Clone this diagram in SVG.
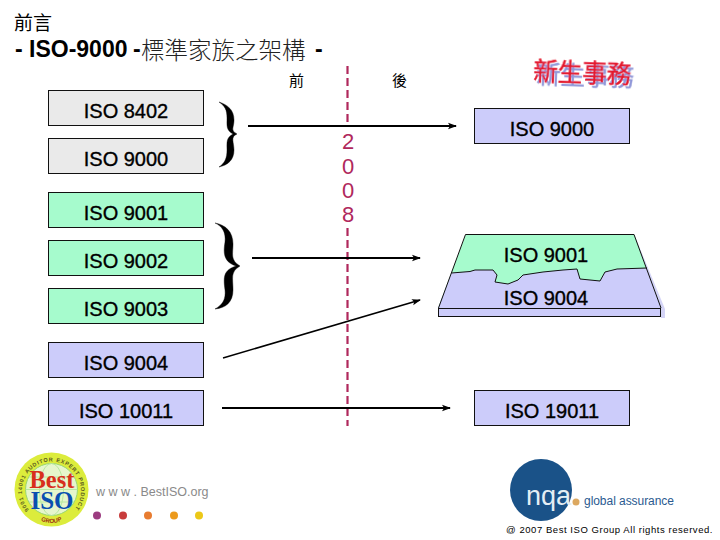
<svg xmlns="http://www.w3.org/2000/svg" width="720" height="540" viewBox="0 0 720 540">
<style>
text{font-family:"Liberation Sans","Noto Sans CJK TC",sans-serif;fill:#000}
.box{stroke:#111;stroke-width:1}
.gray{fill:#eaeaea}.green{fill:#a6fbcd}.blue{fill:#ccccfa}
.lbl{font-size:20px;text-anchor:middle;stroke:#000;stroke-width:.35}
.conn{stroke:#000;stroke-width:2;fill:none}
.brace{fill:#000;stroke:#000;stroke-width:.4}
.cjk{font-family:"Noto Sans CJK TC","Liberation Sans",sans-serif}
.num{font-size:22px;fill:#b0285c;text-anchor:middle}
.serif{font-family:"Liberation Serif",serif;font-weight:700;text-anchor:middle}
</style>
<defs>
<marker id="arr" markerWidth="10" markerHeight="8" refX="8" refY="4" orient="auto" markerUnits="userSpaceOnUse"><path d="M0 .8L9 4L0 7.2L2 4Z" fill="#000"/></marker>
<filter id="sh" x="-10%" y="-20%" width="125%" height="150%"><feDropShadow dx="3" dy="3" stdDeviation=".6" flood-color="#8f96d8"/></filter>
<path id="ring" d="M29 510A29.500 29.500 0 1 1 74 510"/>
<path id="ringb" d="M34 516Q51.500 530 69 516"/>
</defs>
<text x="14" y="30" class="cjk" font-size="19">前言</text>
<text x="15" y="57" font-size="23" font-weight="700">- ISO-9000</text>
<text x="133" y="57" font-size="23" font-weight="700">-</text>
<text x="141" y="59" class="cjk" font-size="23.500" font-weight="300" style="fill:#222">標準家族之架構</text>
<text x="315" y="57" font-size="23" font-weight="700">-</text>
<text x="289" y="86" class="cjk" font-size="15">前</text>
<text x="392" y="86" class="cjk" font-size="15">後</text>
<g id="node-new"><text x="533" y="80" class="cjk" font-size="24.500" transform="rotate(2 533 80)" stroke="#e3162c" stroke-width=".5" filter="url(#sh)" style="fill:#e3162c">新生事務</text></g>
<g id="divider"><line x1="347.500" y1="66" x2="347.500" y2="122" stroke="#b0285c" stroke-width="2.200" stroke-dasharray="8 4"/><line x1="347.500" y1="228" x2="347.500" y2="426" stroke="#b0285c" stroke-width="2.200" stroke-dasharray="8 4"/>
<text class="num" x="348" y="149">2</text><text class="num" x="348" y="174">0</text><text class="num" x="348" y="198">0</text><text class="num" x="348" y="222">8</text></g>
<g id="n8402"><rect class="box gray" x="48.500" y="90.500" width="155" height="35"/><text class="lbl" x="126" y="118">ISO 8402</text></g>
<g id="n9000"><rect class="box gray" x="48.500" y="138.500" width="155" height="35"/><text class="lbl" x="126" y="166">ISO 9000</text></g>
<g id="n9001"><rect class="box green" x="48.500" y="192.500" width="155" height="35"/><text class="lbl" x="126" y="220">ISO 9001</text></g>
<g id="n9002"><rect class="box green" x="48.500" y="240.500" width="155" height="35"/><text class="lbl" x="126" y="268">ISO 9002</text></g>
<g id="n9003"><rect class="box green" x="48.500" y="288.500" width="155" height="35"/><text class="lbl" x="126" y="316">ISO 9003</text></g>
<g id="n9004"><rect class="box blue" x="48.500" y="342.500" width="155" height="35"/><text class="lbl" x="126" y="370">ISO 9004</text></g>
<g id="n10011"><rect class="box blue" x="48.500" y="390.500" width="155" height="35"/><text class="lbl" x="126" y="418">ISO 10011</text></g>
<g id="r9000"><rect class="box blue" x="474.500" y="108.500" width="155" height="35"/><text class="lbl" x="552" y="136">ISO 9000</text></g>
<g id="r19011"><rect class="box blue" x="474.500" y="390.500" width="155" height="35"/><text class="lbl" x="552" y="418">ISO 19011</text></g>
<g id="connectors">
<line class="conn" x1="248" y1="126" x2="456" y2="126" marker-end="url(#arr)"/>
<line class="conn" x1="252" y1="258" x2="420" y2="258" marker-end="url(#arr)"/>
<line class="conn" x1="223" y1="358" x2="420" y2="300" style="stroke-width:1.500" marker-end="url(#arr)"/>
<line class="conn" x1="222" y1="408" x2="450" y2="408" marker-end="url(#arr)"/>
<path class="brace" d="M219 102C228 105 234 110 234 120C234 128 230 130 237 134C230 137 234 142 234 150C234 160 228 165 219 167C225 163 227 158 227 150C227 142 226 138 233 134C226 130 227 126 227 118C227 110 225 106 219 102Z"/>
<path class="brace" d="M215 223C226 225 233 232 233 244C233 254 230 260 240 266C230 272 233 278 233 290C233 302 226 308 215 309C222 305 226 300 225 290C223 276 224 270 236 266C224 262 223 254 225 242C226 232 222 226 215 223Z"/>
</g>
<g id="iso-stack">
<path d="M634 234L665 309V318H661L634 250Z" fill="#d4d4f6"/>
<path d="M466 234H634L661 308H438Z" fill="#a6fbcd"/>
<path d="M451.500 273L470 271.500L475 270L493 270L497 275L495 282L508 284L518 280L523 275L543 272L563 270L577 269L580 279L600 281L605 272L617 269L647 268L661 308H438Z" fill="#ccccfa"/>
<path d="M451.500 273L470 271.500L475 270L493 270L497 275L495 282L508 284L518 280L523 275L543 272L563 270L577 269L580 279L600 281L605 272L617 269L647 268" fill="none" stroke="#111" stroke-width="1" stroke-linejoin="round"/>
<path d="M438.500 308L465.500 234.500H634L661 308" fill="none" stroke="#111" stroke-width="1"/>
<rect class="box blue" x="438.500" y="308.500" width="222" height="8"/>
<text class="lbl" x="546" y="262">ISO 9001</text>
<text class="lbl" x="546" y="305">ISO 9004</text>
</g>
<g id="logo-best">
<circle cx="51.500" cy="489.500" r="37" fill="#dcec3c"/>
<circle cx="51.500" cy="489.500" r="26" fill="#e6f6cc" stroke="#9ad870" stroke-width="1"/>
<ellipse cx="51.500" cy="489.500" rx="12" ry="26" fill="none" stroke="#b8e8a0" stroke-width="1"/>
<path d="M26 489.500H77M29 477H74M29 502H74" fill="none" stroke="#b8e8a0" stroke-width="1"/>
<text x="52" y="488" class="serif" font-size="24.500" style="fill:#d8301c">Best</text>
<text x="52" y="509" class="serif" font-size="25" style="fill:#0a4fb0">ISO</text>
<text font-size="5.500" font-weight="700" letter-spacing=".75" style="fill:#5a5a20"><textPath href="#ring">9001 14001 AUDITOR EXPERT PRODUCT</textPath></text>
<text font-size="6" font-weight="700" text-anchor="middle" style="fill:#a03010"><textPath href="#ringb" startOffset="50%">GROUP</textPath></text>
</g>
<g id="site">
<text x="96" y="496" font-size="12.500" style="fill:#8a8a8a">w w w . BestISO.org</text>
<circle cx="97" cy="515.500" r="4" fill="#9c3c80"/><circle cx="123" cy="515.500" r="4" fill="#c83c3c"/><circle cx="148" cy="515.500" r="4" fill="#e87c30"/><circle cx="174" cy="515.500" r="4" fill="#ec9a1c"/><circle cx="199" cy="515.500" r="4" fill="#ecc818"/>
</g>
<g id="logo-nqa">
<circle cx="541" cy="490" r="31" fill="#1a5288"/>
<text x="526" y="505" font-size="27" style="fill:#e4eef4">nqa</text>
<circle cx="576" cy="502" r="3.500" fill="#dca860"/>
<text x="584" y="505" font-size="12" textLength="90" style="fill:#2a5a90">global assurance</text>
</g>
<text x="506" y="533" font-size="9.500" letter-spacing=".55">@ 2007 Best ISO Group  All rights reserved.</text>
</svg>
